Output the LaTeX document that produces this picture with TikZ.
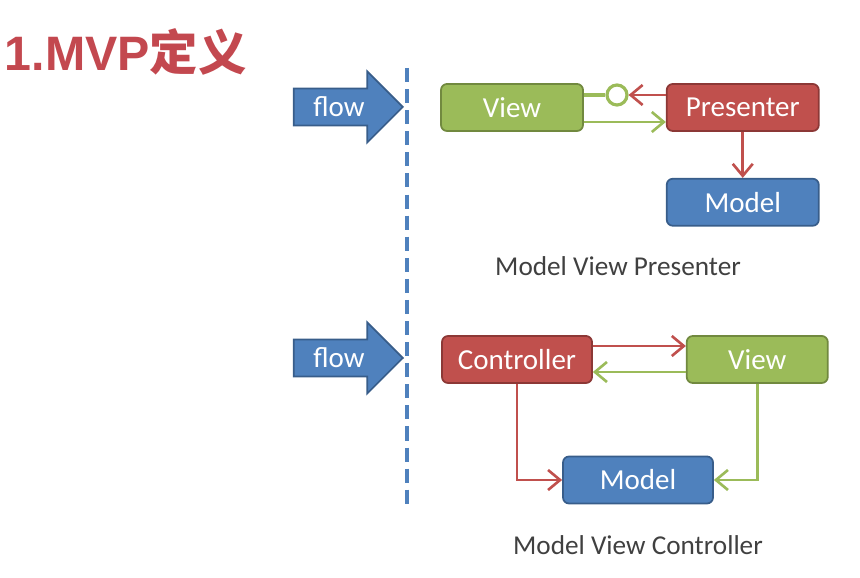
\documentclass[tikz,border=0pt]{standalone}
\usepackage{fontspec}
\setmainfont{Carlito}
\newfontfamily\titlefont{Liberation Sans}
\newfontfamily\cjk{Noto Sans CJK SC}
\usepackage{tikz}
\usetikzlibrary{arrows.meta, positioning, shapes.geometric, shapes.arrows}

\definecolor{mgreen}{HTML}{9BBB59}
\definecolor{mgreenD}{HTML}{71893F}
\definecolor{mred}{HTML}{C0504D}
\definecolor{mredD}{HTML}{8C3836}
\definecolor{mblue}{HTML}{4F81BD}
\definecolor{mblueD}{HTML}{385D8A}
\definecolor{titlered}{HTML}{C3484F}

\begin{document}
\begin{tikzpicture}[
		every node/.style={font=\fontsize{16.5}{19}\selectfont},
		box/.style={draw, rounded corners=0.12cm, line width=1pt, minimum height=0.94cm, text=white},
		vbox/.style={box, fill=mgreen, draw=mgreenD},
		pbox/.style={box, fill=mred, draw=mredD},
		mbox/.style={box, fill=mblue, draw=mblueD},
		flowarrow/.style={single arrow, draw=mblueD, fill=mblue, line width=1pt, text=white,
			minimum height=2.18cm, minimum width=1.42cm, single arrow head extend=0.33cm,
			inner xsep=2pt, inner ysep=4pt},
		caption/.style={text=black!75, font=\fontsize{15.5}{18}\selectfont},
		red line/.style={draw=mred, line width=1.5pt, -{Straight Barb[length=2.4mm, width=4mm]}},
		green line/.style={draw=mgreen, line width=1.5pt, -{Straight Barb[length=2.4mm, width=4mm]}},
		thick
		]
		\useasboundingbox (0,0) rectangle (17.2,-11.56);
		% Title
		\node[anchor=west, text=titlered, inner sep=0pt] at (0.08,-1.04) (title)
			{\fontsize{27.5}{32}\selectfont\titlefont\bfseries 1.MVP\cjk\bfseries 定义};

		% flow arrows and divider
		\node[flowarrow] at (6.78,-2.14) (flow1) {flow};
		\node[flowarrow] at (6.78,-7.16) (flow2) {flow};
		\coordinate (dtop) at (8.14,-1.36);
		\coordinate (dbot) at (8.14,-10.2);
		\draw[mblue, line width=2pt, dash pattern=on 8pt off 4pt] (dtop) -- (dbot);

		% Model View Presenter
		\node[vbox, minimum width=2.84cm] at (10.24,-2.15) (view1) {View};
		\node[pbox, minimum width=3.04cm, right = 1.64cm of view1] (presenter) {Presenter};
		\node[mbox, minimum width=3.04cm, below = 0.92cm of presenter] (model1) {Model};
		\node[draw=mgreen, line width=1.8pt, fill=white, circle, minimum size=0.4cm, inner sep=0pt] at (12.34,-1.9) (plug) {};

		\draw[mgreen, line width=1.8pt] (plug) -- (plug -| view1.east);
		\draw[red line] (plug -| presenter.west) -- (plug);
		\draw[green line] ([yshift=-0.29cm]view1.east) -- ([yshift=-0.29cm]presenter.west);
		\draw[red line] (presenter) -- (model1);

		\node[caption] at (12.36,-5.32) (mvpcap) {Model View Presenter};

		% Model View Controller
		\node[pbox, minimum width=3.0cm] at (10.34,-7.19) (controller) {Controller};
		\node[vbox, minimum width=2.82cm, right = 1.86cm of controller] (view2) {View};
		\node[mbox, minimum width=3.0cm] at (12.76,-9.6) (model2) {Model};

		\draw[red line] ([yshift=0.27cm]controller.east) -- ([yshift=0.27cm]view2.west);
		\draw[green line] ([yshift=-0.25cm]view2.west) -- ([yshift=-0.25cm]controller.east);
		\draw[red line] (controller.south) |- (model2.west);
		\draw[green line] (view2.south) |- (model2.east);

		\node[caption] at (12.76,-10.9) (mvccap) {Model View Controller};
\end{tikzpicture}
\end{document}
